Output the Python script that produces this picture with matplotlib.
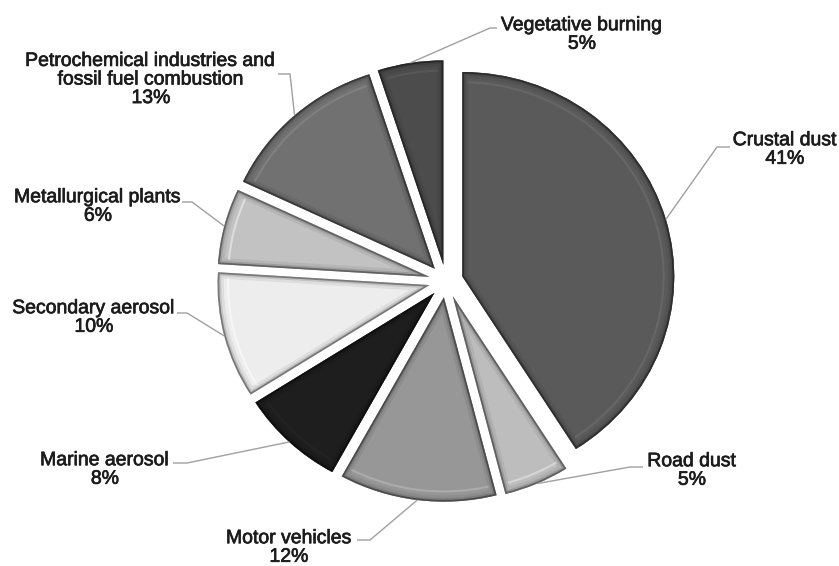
import numpy as np
import matplotlib
matplotlib.use("Agg")
import matplotlib.pyplot as plt
import matplotlib.patheffects as pe
from matplotlib.patches import Wedge

plt.rcParams['font.family'] = ['Liberation Sans', 'DejaVu Sans']

# Source apportionment shares (%), clockwise from 12 o'clock
sources = [
    "Crustal dust",
    "Road dust",
    "Motor vehicles",
    "Marine aerosol",
    "Secondary aerosol",
    "Metallurgical plants",
    "Petrochemical industries and\nfossil fuel combustion",
    "Vegetative burning",
]
shares = [41, 5, 12, 8, 10, 6, 13, 5]
colors = ["#5a5a5a", "#bdbdbd", "#979797", "#1e1e1e",
          "#ededed", "#c2c2c2", "#717171", "#4c4c4c"]

W, H = 839, 566
K = 1.037  # slight horizontal stretch of the pie

fig = plt.figure(figsize=(W / 100, H / 100), dpi=100)
ax = fig.add_axes([0, 0, 1, 1])


def px(x, y):
    """Pixel position (from top-left) to data coordinates."""
    return x, (H - y) * K


cx, cy = px(446, 281)
R = 212
# explode offsets are in data units for pie(); use 8% of the radius
wedges, _ = ax.pie(shares, colors=colors, startangle=90, counterclock=False,
                   explode=[0.08 * R] * len(shares), radius=R, center=(cx, cy),
                   wedgeprops=dict(edgecolor="none", linewidth=0))
ax.set_aspect('auto')
ax.set_xlim(0, W)
ax.set_ylim(0, H * K)
ax.axis('off')


def shade(c, f):
    rgb = np.array(matplotlib.colors.to_rgb(c))
    return tuple(np.clip(rgb * f, 0, 1))


# bevelled rims: darker strokes clipped to the inside of each wedge
for w, c in zip(wedges, colors):
    for lw, f, a in [(9, 0.75, 0.25), (5, 0.6, 0.35), (2.5, 0.4, 0.75)]:
        rim = Wedge(w.center, w.r, w.theta1, w.theta2, fill=False,
                    edgecolor=shade(c, f), linewidth=lw, alpha=a)
        ax.add_patch(rim)
        rim.set_clip_path(w)
    hl = Wedge(w.center, w.r * 0.955, w.theta1 + 1.5, w.theta2 - 1.5,
               width=w.r * 0.01, facecolor=shade(c, 1.25), edgecolor="none",
               alpha=0.55)
    ax.add_patch(hl)
    hl.set_clip_path(w)

# label block centres and leader-line elbows (pixel positions)
label_pos = [(785, 150), (692, 471), (289, 548), (105, 470),
             (94, 318), (98, 207), (151, 80), (582, 35)]
leader_start = [(730, 147), (643, 467), (357, 540), (173, 463),
                (177, 313), (182, 202), (278, 74), (497, 28)]
leader_elbow = [(717, 147), (630, 467), (370, 540), (187, 463),
                (187, 313), (192, 202), (290, 74), (490, 28)]

for w, name, v, lp, ls, le in zip(wedges, sources, shares, label_pos,
                                  leader_start, leader_elbow):
    mid = np.deg2rad((w.theta1 + w.theta2) / 2)
    ax_, ay_ = w.center[0] + w.r * np.cos(mid), w.center[1] + w.r * np.sin(mid)
    p0, p1 = px(*ls), px(*le)
    ax.plot([p0[0], p1[0], ax_], [p0[1], p1[1], ay_], color="#a0a0a0",
            linewidth=1.0, solid_capstyle='butt')
    tx, ty = px(*lp)
    ax.text(tx, ty, f"{name}\n{v}%", ha="center", va="center",
            fontsize=14, color="#1c1c1c", linespacing=1.12,
            path_effects=[pe.withStroke(linewidth=0.5, foreground="#1c1c1c")])

fig.savefig("out.png", dpi=100, facecolor="white")
